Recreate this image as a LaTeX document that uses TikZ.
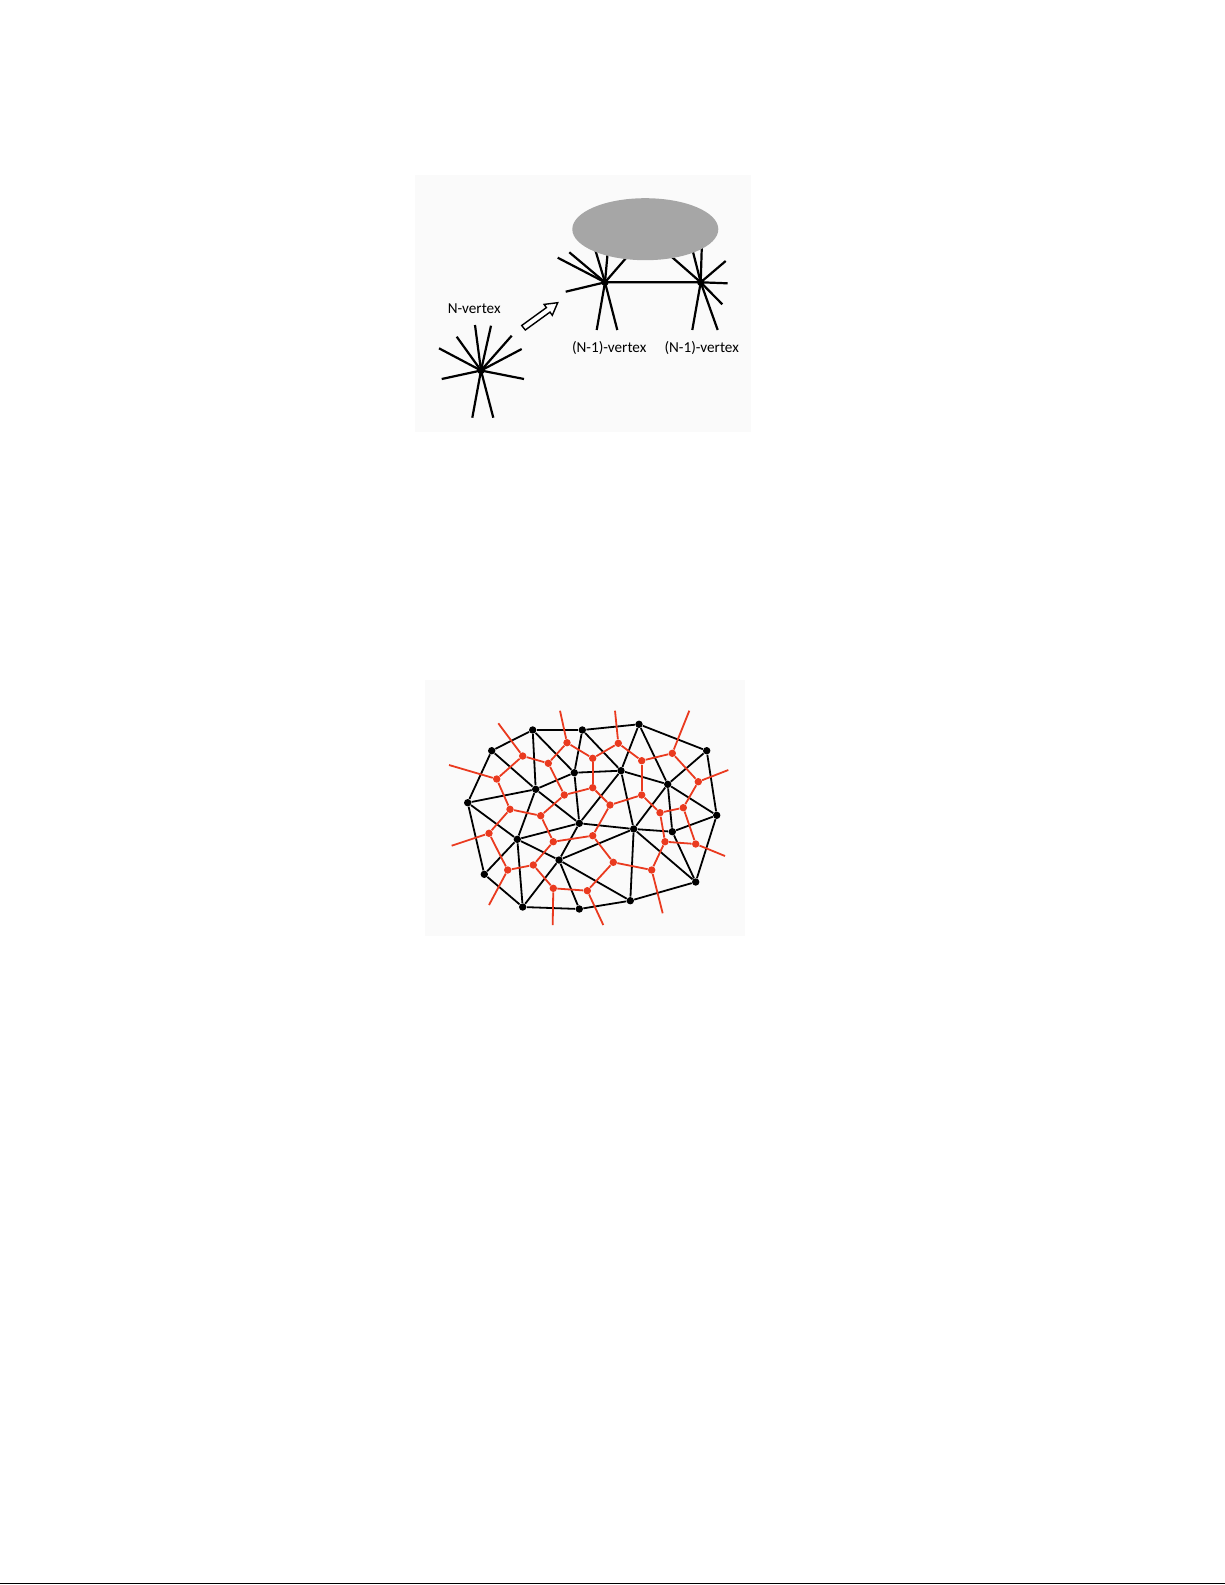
\documentclass[tikz,border=0pt]{standalone}
\usepackage{fontspec}
\setmainfont{Carlito}
\usetikzlibrary{calc,positioning}
\definecolor{blobgray}{HTML}{A6A6A6}
\definecolor{dualred}{HTML}{EA3A1F}
\definecolor{panelgray}{HTML}{FAFAFA}

\begin{document}
\begin{tikzpicture}[x=0.5pt,y=-0.5pt,
    dot/.style={circle, fill=black, inner sep=0pt, minimum size=3.7pt},
    reddot/.style={circle, fill=dualred, inner sep=0pt, minimum size=3.7pt},
    spoke/.style={line width=1.1pt},
    edge/.style={line width=0.9pt},
    dual/.style={line width=0.9pt, draw=dualred},
    lbl/.style={font=\fontsize{7.6}{9}\selectfont, inner sep=0pt}]

    \useasboundingbox (0,0) rectangle (1225,1585);
    \fill[panelgray] (415,175) rectangle (751,432);
    \fill[panelgray] (425,680) rectangle (745,936);

    % N-vertex
    \node[dot] (nv) at (481,370.5) {};
    \foreach \p in {(475,325),(491,325.7),(456.7,336.7),(511.7,335.7),(439,348.3),
                    (521.7,349),(441.7,379),(524,379),(472.3,417.7),(493.3,417.7)}
        \draw[spoke] (nv.center) -- \p;
    \node[lbl] (nlabel) at (474.2,308.3) {N-vertex};

    \draw[line width=0.7pt, fill=white] (521.7,325.5) -- (546.4,307.6) -- (544.1,304.4)
        -- (557.7,302.7) -- (552.3,315.3) -- (550,312.1) -- (525.3,330) -- cycle;

    % two (N-1)-vertices
    \node[dot] (va) at (605,282.3) {};
    \node[dot] (vb) at (700.7,282.3) {};
    \foreach \p in {(557.7,257.7),(569.3,252.3),(565.7,291.7),(593,242.3),(608.6,242),
                    (633,250),(596.7,330),(617.3,330)}
        \draw[spoke] (va.center) -- \p;
    \foreach \p in {(691,244),(702,240),(668,253.6),(725.7,261),(722.3,304.3),
                    (692.3,330),(717.7,330)}
        \draw[spoke] (vb.center) -- \p;
    \coordinate (vend) at (727.7,283.3);
    \draw[spoke] (va.center) -- (vb.center) -- (vend);
    \fill[blobgray] (645.3,229.2) ellipse [x radius=73, y radius=31];
    \node[lbl] (alabel) at (609.2,348.3) {(N-1)-vertex};
    \node[lbl] (blabel) at (701.7,348.3) {(N-1)-vertex};

    % triangulation and its dual
    \foreach \n/\x/\y in {1/532.7/730, 2/582.3/730, 3/639/724.3, 4/706.7/750.7,
        5/491.7/750.7, 6/574.3/772.7, 7/621/770.7, 8/667.7/784.3, 9/535.7/789.3,
        10/467.7/802.7, 11/716.7/815.3, 12/579.3/823.3, 13/633.7/829, 14/672.3/831.7,
        15/517.3/839.3, 16/559/860, 17/484.3/874.3, 18/695.7/882, 19/630.3/900.7,
        20/522.7/907, 21/579.3/909}
        \node[dot] (k\n) at (\x,\y) {};
    \foreach \n/\x/\y in {1/522.7/756, 2/548.3/763.3, 3/567/742.7, 4/592.7/758.3,
        5/618.3/743.3, 6/641.7/760.7, 7/672.3/753.3, 8/698.3/781.7, 9/496.7/779,
        10/564.3/795, 11/592.7/787.7, 12/641.7/795, 13/610/805, 14/510/809.3,
        15/540.7/815.7, 16/660/812.7, 17/683.3/807.7, 18/489/833.3, 19/553.3/841.7,
        20/592.7/835.7, 21/665/841.7, 22/695.7/844, 23/507.7/870, 24/533.3/865,
        25/613.3/862.3, 26/651.7/870, 27/553.3/888.3, 28/587.3/890.7}
        \node[reddot] (r\n) at (\x,\y) {};

    \foreach \a/\b in {5/1,1/2,2/3,3/4,4/11,11/18,18/19,19/21,21/20,20/17,17/10,10/5,
        1/9,1/6,5/9,2/6,2/7,3/7,3/8,6/7,6/9,6/12,9/10,9/12,9/15,10/15,7/12,7/13,7/8,
        8/4,8/11,8/13,8/14,14/11,14/18,13/18,13/19,13/12,13/16,13/14,12/16,12/15,
        15/16,15/17,15/20,16/20,16/21,16/19}
        \draw[edge] (k\a) -- (k\b);

    \foreach \a/\b in {1/2,2/3,1/9,3/4,4/5,5/6,6/7,4/11,2/10,10/11,9/14,10/15,14/15,
        14/18,11/13,12/13,6/12,7/8,8/17,12/16,16/17,17/22,21/22,21/26,25/26,13/20,
        20/25,16/21,19/20,15/19,19/24,18/23,23/24,24/27,27/28,25/28}
        \draw[dual] (r\a) -- (r\b);

    \foreach \n/\x/\y in {1/498.3/723.3, 3/560/710.7, 5/615/710.7, 7/689.3/710.7,
        8/728.3/770, 22/725/856, 26/662.7/913.3, 28/603.3/925, 27/552.7/925,
        23/489/905, 18/451.7/845.7, 9/449/765}
    {
        \coordinate (t\n) at (\x,\y);
        \draw[dual] (r\n) -- (t\n);
    }

    \draw[line width=0.8pt] (0,1583.5) -- (1225,1583.5);

\end{tikzpicture}
\end{document}
